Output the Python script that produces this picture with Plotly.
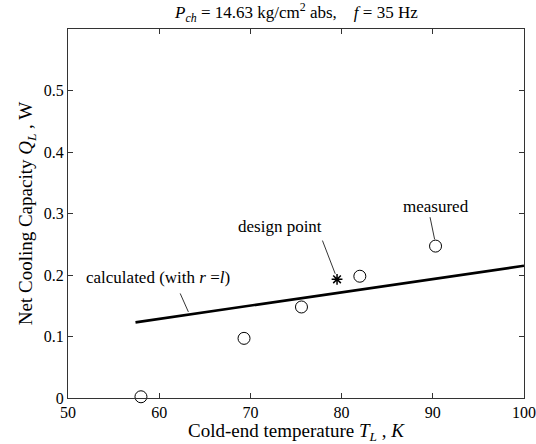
import plotly.graph_objects as go

# measured data
meas_T = [58.0, 69.3, 75.6, 82.0, 90.3]
meas_Q = [0.002, 0.097, 0.148, 0.198, 0.247]
# calculated line
calc_T = [57.4, 100.0]
calc_Q = [0.123, 0.215]
# design point
design_T = [79.5]
design_Q = [0.193]

x_ticks = [50, 60, 70, 80, 90, 100]
y_ticks = [0, 0.1, 0.2, 0.3, 0.4, 0.5]
y_tick_labels = ["0", "0.1", "0.2", "0.3", "0.4", "0.5"]

FONT = "Liberation Serif, Times New Roman, serif"

fig = go.Figure()
fig.add_trace(go.Scatter(x=calc_T, y=calc_Q, mode="lines",
                         line=dict(color="black", width=2.6), showlegend=False))
fig.add_trace(go.Scatter(x=meas_T, y=meas_Q, mode="markers",
                         marker=dict(symbol="circle-open", size=12, color="black",
                                     line=dict(width=1)), showlegend=False, cliponaxis=False))
fig.add_trace(go.Scatter(x=design_T, y=design_Q, mode="markers",
                         marker=dict(symbol="asterisk-open", size=9, color="black",
                                     line=dict(width=1.5)), showlegend=False))

# pointer lines
pointers = [
    ((62.3, 0.170), (63.2, 0.140)),
    ((77.9, 0.256), (79.3, 0.202)),
    ((89.7, 0.294), (90.2, 0.258)),
]
for (x0, y0), (x1, y1) in pointers:
    fig.add_shape(type="line", x0=x0, y0=y0, x1=x1, y1=y1, xref="x", yref="y",
                  line=dict(color="black", width=0.8))

labels = [
    (59.9, 0.196, "calculated (with <i>r</i> =<i>l</i>)"),
    (73.2, 0.279, "design point"),
    (90.3, 0.311, "measured"),
]
for x, y, t in labels:
    fig.add_annotation(x=x, y=y, text=t, showarrow=False, xref="x", yref="y",
                       font=dict(family=FONT, size=17, color="black"))

fig.add_annotation(x=0.5, y=1.0, xref="paper", yref="paper", yanchor="bottom", yshift=2,
                   text="<i>P<sub>ch</sub></i> = 14.63 kg/cm<sup>2</sup> abs,    <i>f</i> = 35 Hz",
                   showarrow=False, font=dict(family=FONT, size=17, color="black"))

axis_common = dict(showgrid=False, zeroline=False, showline=True, linecolor="#333",
                   linewidth=1, mirror="ticks", ticks="inside", ticklen=5, tickcolor="#333",
                   automargin=False,
                   tickfont=dict(family=FONT, size=16, color="black"))

fig.update_xaxes(range=[50, 100], tickvals=x_ticks, ticktext=[str(v) for v in x_ticks],
                 title=dict(text="Cold-end temperature <i>T<sub>L</sub></i> , <i>K</i>",
                            font=dict(family=FONT, size=19, color="black"), standoff=4),
                 **axis_common)
fig.update_yaxes(range=[0, 0.6], tickvals=y_ticks, ticktext=y_tick_labels,
                 title=dict(text="Net Cooling Capacity <i>Q<sub>L</sub></i> , W",
                            font=dict(family=FONT, size=19, color="black"), standoff=6),
                 **axis_common)

fig.update_layout(width=536, height=444, margin=dict(l=68, r=12, t=29, b=46),
                  paper_bgcolor="white", plot_bgcolor="white", showlegend=False)

fig.write_html("out.html")
